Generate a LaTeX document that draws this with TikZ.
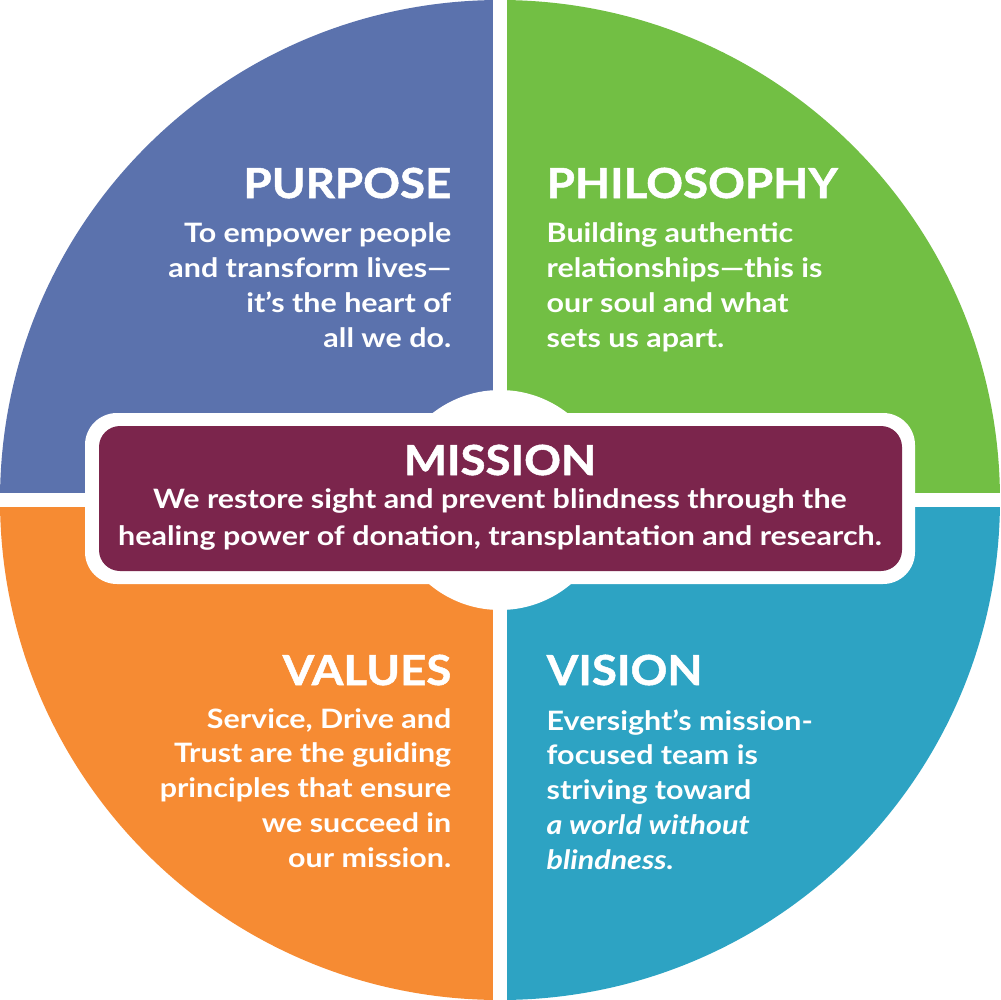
\documentclass[tikz,border=0pt]{standalone}
\usepackage{fontspec}
\setmainfont{Lato}
\newfontfamily\headfont{Lato}[FakeStretch=1.1, FakeBold=1.2]
\newfontfamily\bodyfont{Lato}[FakeStretch=1.14]
\definecolor{cblue}{HTML}{5B72AD}
\definecolor{cgreen}{HTML}{72BF44}
\definecolor{corange}{HTML}{F68B33}
\definecolor{cteal}{HTML}{2DA3C3}
\definecolor{cmaroon}{HTML}{7B254C}
\tikzset{
  head/.style={text=white, inner sep=0pt, font=\headfont\bfseries\fontsize{11.8}{12}\selectfont},
  body/.style={text=white, inner sep=0pt, font=\bodyfont\bfseries\fontsize{7.6}{9.87}\selectfont},
  mbody/.style={text=white, inner sep=0pt, align=center, font=\bodyfont\bfseries\fontsize{7.6}{10.5}\selectfont},
}
\begin{document}
\begin{tikzpicture}[x=0.1mm,y=-0.1mm]
\useasboundingbox (0,0) rectangle (1000,1000);
\begin{scope}
  \clip (500,500) circle (5cm);
  \fill[cblue] (0,0) rectangle (500,500);
  \fill[cgreen] (500,0) rectangle (1000,500);
  \fill[corange] (0,500) rectangle (500,1000);
  \fill[cteal] (500,500) rectangle (1000,1000);
\end{scope}
\fill[white] (493,0) rectangle (507,1000);
\fill[white] (0,493) rectangle (1000,507);
\fill[white] (500,500) circle (1.1cm);
\fill[white, rounded corners=3.2mm] (85,413) rectangle (915,584);
\fill[cmaroon, rounded corners=2.1mm] (99,426) rectangle (902,571);

\node[head, anchor=base east] (purposeT) at (452,198) {PURPOSE};
\node[body, anchor=base east, align=right] (purposeB) at (452,347)
  {To empower people\\and transform lives—\\it’s the heart of\\all we do.};

\node[head, anchor=base west] (philT) at (546,198) {PHILOSOPHY};
\node[body, anchor=base west, align=left] (philB) at (546,347)
  {Building authentic\\relationships—this is\\our soul and what\\sets us apart.};

\node[head, anchor=base] (missT) at (500,475) {MISSION};
\node[mbody, anchor=base] (missB) at (500,545)
  {We restore sight and prevent blindness through the\\healing power of donation, transplantation and research.};

\node[head, anchor=base east] (valT) at (452,685) {VALUES};
\node[body, anchor=base east, align=right] (valB) at (452,867)
  {Service, Drive and\\Trust are the guiding\\principles that ensure\\we succeed in\\our mission.};

\node[head, anchor=base west] (visT) at (546,685) {VISION};
\node[body, anchor=base west, align=left] (visB) at (546,869)
  {Eversight’s mission-\\focused team is\\striving toward\\{\itshape a world without}\\{\itshape blindness.}};
\end{tikzpicture}
\end{document}
